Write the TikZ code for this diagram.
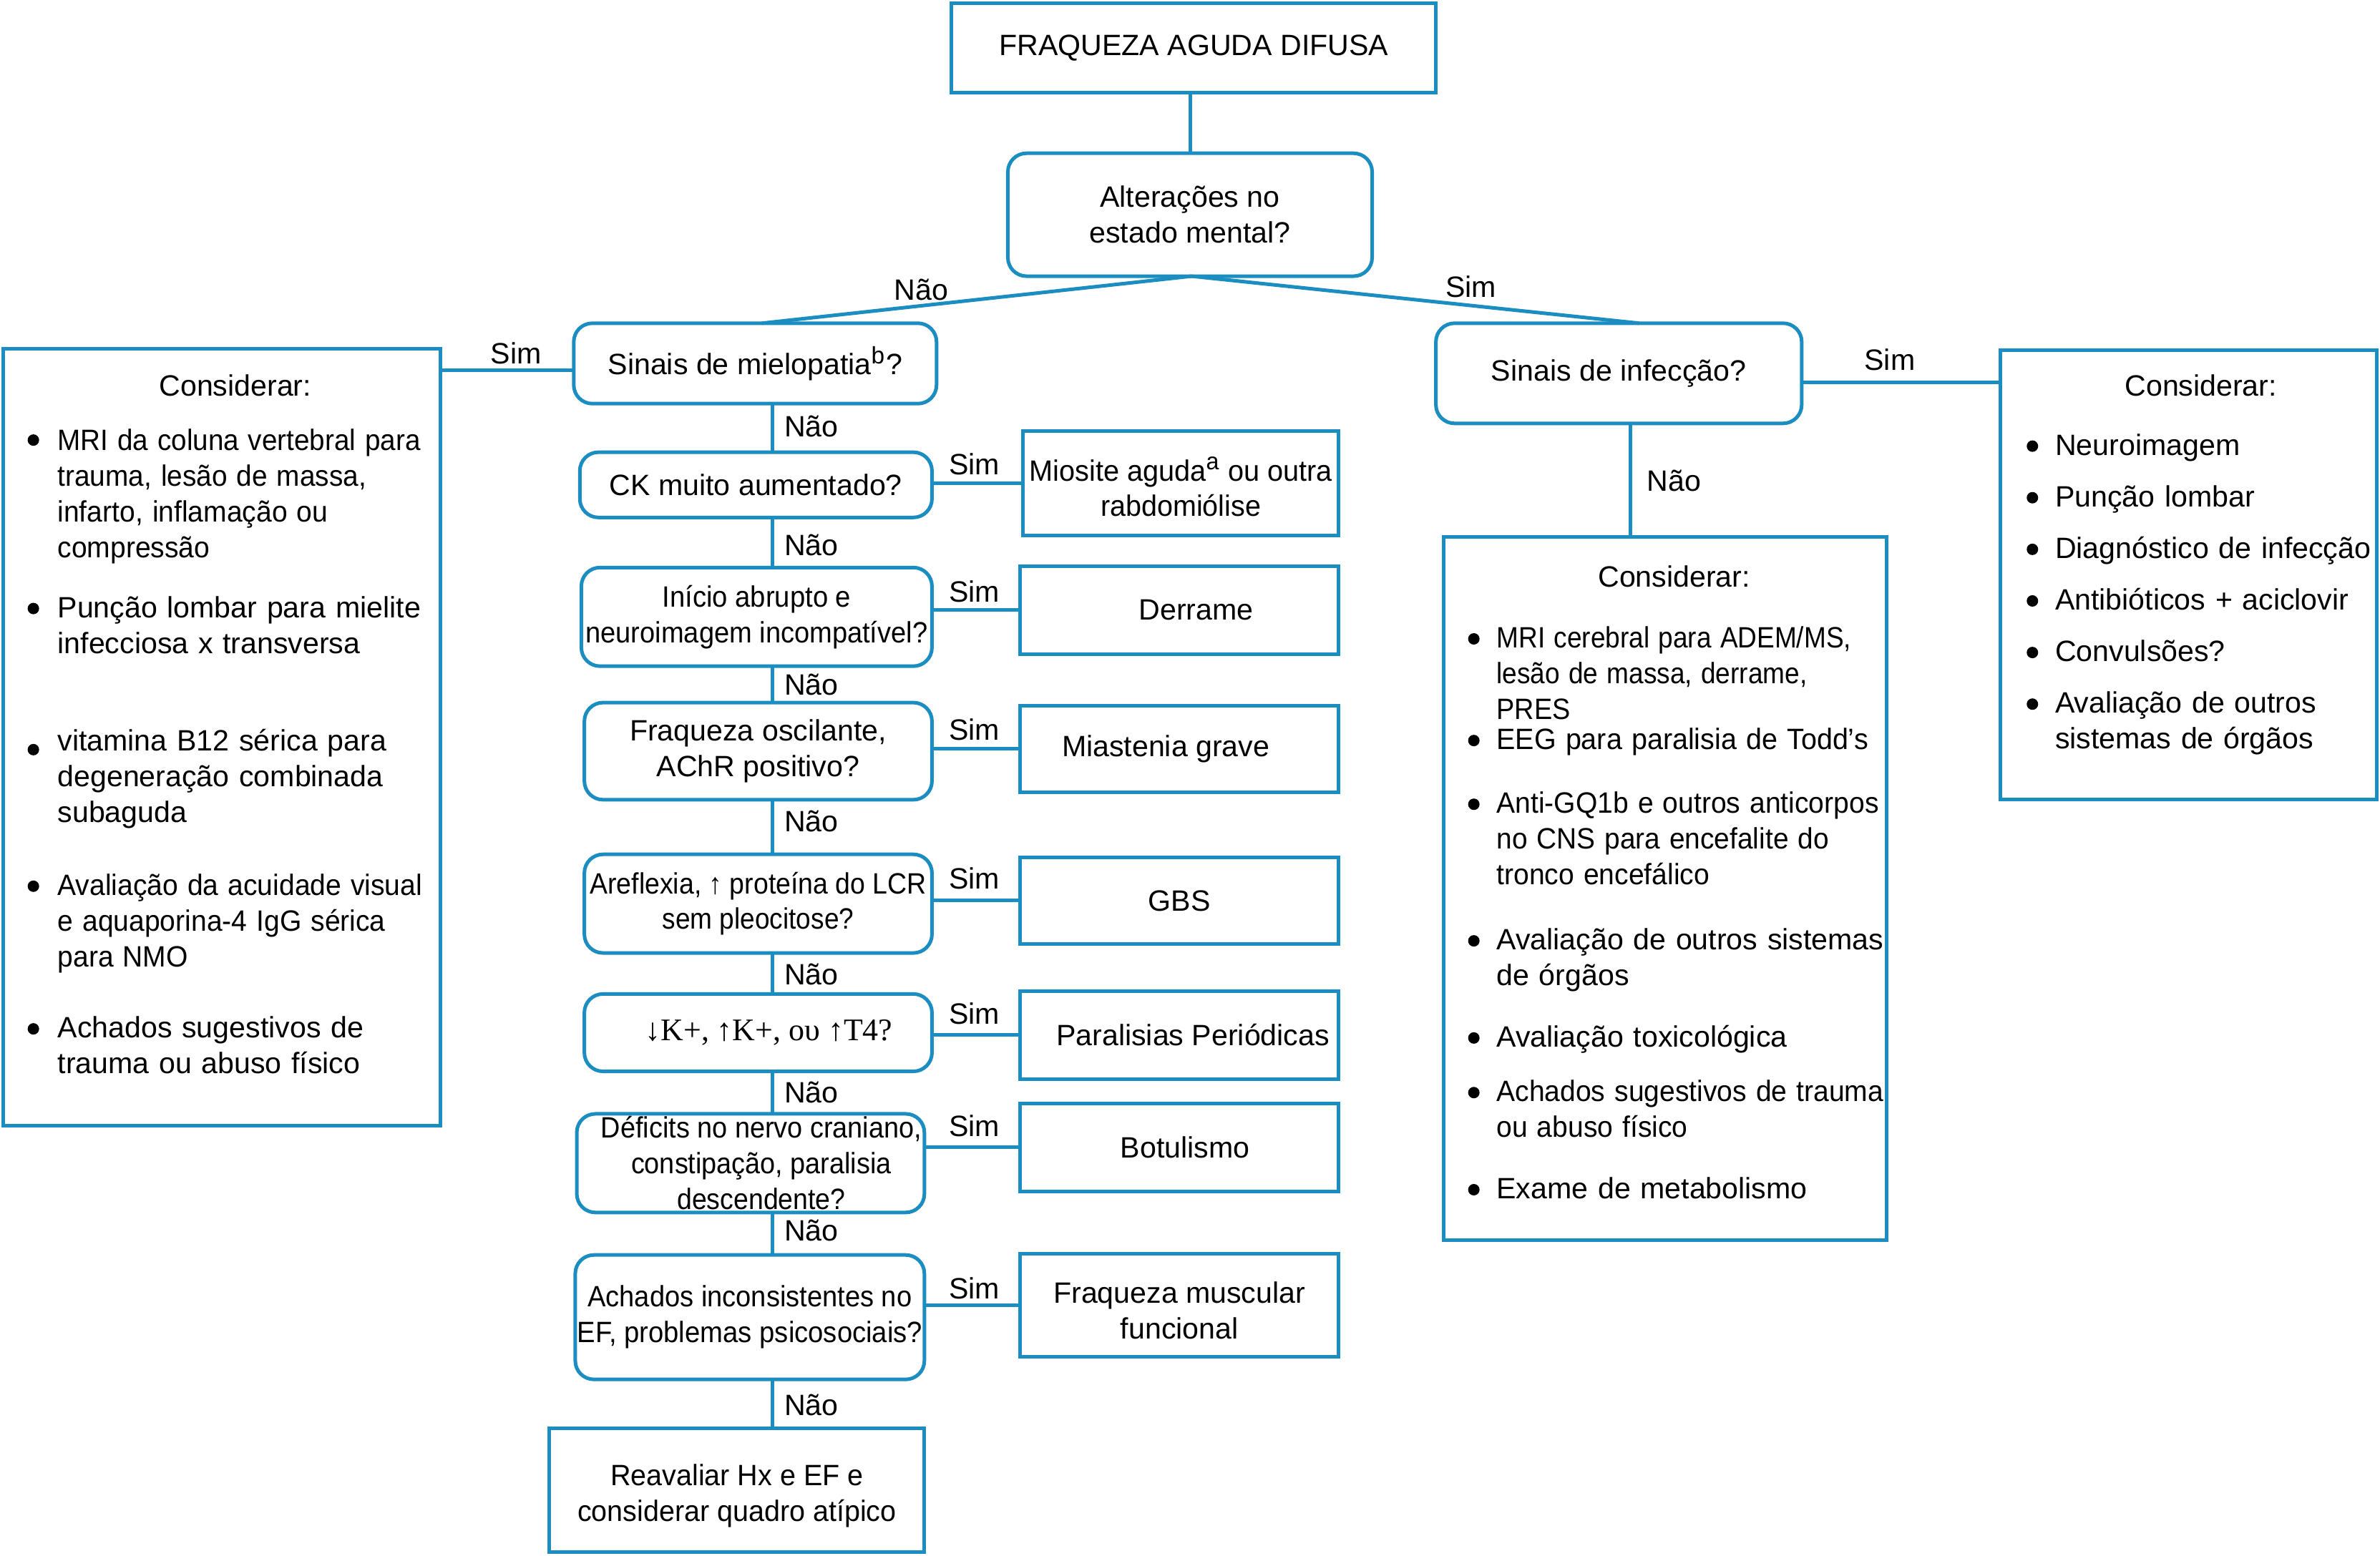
\documentclass[tikz,border=0pt]{standalone}
\usepackage{fontspec}
\usepackage{graphicx}
\setmainfont{Liberation Sans}
\newfontfamily\serifgr{Liberation Serif}
\usetikzlibrary{calc}
\definecolor{flowblue}{RGB}{28,141,192}
\newcommand{\hsc}[2]{\scalebox{#1}[1]{#2}}
\newcommand{\lowr}[2]{\raisebox{-#1}[\height][\depth]{#2}}
\begin{document}
\begin{tikzpicture}[x=0.21212mm, y=-0.21212mm,
  every node/.style={font=\fontsize{11.7}{14.2}\selectfont, inner sep=0pt, outer sep=0pt},
  wh/.style 2 args={minimum width=#1*0.21212mm, minimum height=#2*0.21212mm},
  sqbox/.style={draw=flowblue, line width=0.5mm, align=center},
  rbox/.style={sqbox, rounded corners=2.6mm},
  conn/.style={draw=flowblue, line width=0.5mm},
  bitem/.style={anchor=base west, text width=75mm, align=left},
  bdot/.style={fill=black},
]
\useasboundingbox (0,0) rectangle (1568,1025);

% ---- main column ----
\node[sqbox, wh={319}{59}] (top) at (786.5,31.5) {FRAQUEZA AGUDA DIFUSA};
\node[rbox, wh={240}{81}] (alt) at (784,141.5) {Alterações no\\estado mental?};
\node[rbox, wh={239}{53}] (q1) at (497.5,239.5) {Sinais de mielopatia\textsuperscript{\fontsize{9.5}{10}\selectfont b}?};
\node[rbox, wh={232}{43}] (q2) at (498,319.5) {CK muito aumentado?};
\node[rbox, wh={231}{65}] (q3) at (498.5,406.5) {\hsc{0.93}{Início abrupto e}\\\hsc{0.925}{neuroimagem incompatível?}};
\node[rbox, wh={229}{64}] (q4) at (499.5,495) {Fraqueza oscilante,\\AChR positivo?};
\node[rbox, wh={229}{65}] (q5) at (499.5,595.5) {\hsc{0.91}{Areflexia, ↑ proteína do LCR}\\\hsc{0.9}{sem pleocitose?}};
\node[rbox, wh={229}{51}] (q6) at (499.5,680.5) {\mbox{\hspace{3mm}\serifgr\fontsize{12.5}{14}\selectfont ↓K+, ↑K+, ου ↑T4?}};
\node[rbox, wh={229}{65}] (q7) at (494.5,766.5) {\mbox{\hspace{3mm}\hsc{0.92}{Déficits no nervo craniano,}}\\\mbox{\hspace{3mm}\hsc{0.92}{constipação, paralisia}}\\\mbox{\hspace{3mm}\hsc{0.91}{descendente?}}};
\node[rbox, wh={230}{82}] (q8) at (494,868) {\hsc{0.926}{Achados inconsistentes no}\\\hsc{0.93}{EF, problemas psicosociais?}};
\node[sqbox, wh={247}{82}] (fim) at (485.5,982) {\lowr{0.8mm}{\hsc{0.96}{Reavaliar Hx e EF e}}\\\lowr{0.8mm}{\hsc{0.96}{considerar quadro atípico}}};

% ---- results ----
\node[sqbox, wh={208}{69}] (r2) at (778,318.5) {\lowr{0.5mm}{\hsc{0.965}{Miosite aguda\textsuperscript{\fontsize{9.5}{10}\selectfont a} ou outra}}\\\lowr{0.5mm}{\hsc{0.96}{rabdomiólise}}};
\node[sqbox, wh={210}{58}] (r3) at (777,402) {\mbox{\hspace{4.7mm}Derrame}};
\node[sqbox, wh={210}{57}] (r4) at (777,493.5) {\mbox{Miastenia grave\hspace{3.8mm}}};
\node[sqbox, wh={210}{57}] (r5) at (777,593.5) {GBS};
\node[sqbox, wh={210}{58}] (r6) at (777,682) {\mbox{\hspace{3.8mm}Paralisias Periódicas}};
\node[sqbox, wh={210}{58}] (r7) at (777,756) {\mbox{\hspace{1.6mm}Botulismo}};
\node[sqbox, wh={210}{68}] (r8) at (777,860) {\lowr{0.8mm}{Fraqueza muscular}\\\lowr{0.8mm}{funcional}};

% ---- side boxes ----
\node[sqbox, wh={288}{512}] (lb) at (146,486) {};
\node[rbox, wh={241}{66}] (qi) at (1066.5,246) {Sinais de infecção?};
\node[sqbox, wh={248}{296}] (rb) at (1442,379) {};
\node[sqbox, wh={292}{463}] (mb) at (1097,585.5) {};

% ---- connectors ----
\coordinate (sx) at (509,0);
\coordinate (ix) at (1074,0);
\draw[conn] (top.south -| alt.north) -- (alt.north);
\draw[conn] ($(alt.south)+(1,0)$) -- ($(q1.north)+(4.5,0)$);
\draw[conn] ($(alt.south)+(1,0)$) -- ($(qi.north)+(13.5,0)$);
\path ($(q1.west)+(0,4.5)$) coordinate (q1w);
\draw[conn] (q1w) -- (q1w -| lb.east);
\draw[conn] (q1.south -| sx) -- (q2.north -| sx);
\draw[conn] (q2.south -| sx) -- (q3.north -| sx);
\draw[conn] (q3.south -| sx) -- (q4.north -| sx);
\draw[conn] (q4.south -| sx) -- (q5.north -| sx);
\draw[conn] (q5.south -| sx) -- (q6.north -| sx);
\draw[conn] (q6.south -| sx) -- (q7.north -| sx);
\draw[conn] (q7.south -| sx) -- (q8.north -| sx);
\draw[conn] (q8.south -| sx) -- (fim.north -| sx);
\draw[conn] (r2.west) -- (r2.west -| q2.east);
\draw[conn] (r3.west) -- (r3.west -| q3.east);
\draw[conn] (r4.west) -- (r4.west -| q4.east);
\draw[conn] (r5.west) -- (r5.west -| q5.east);
\draw[conn] (r6.west) -- (r6.west -| q6.east);
\draw[conn] (r7.west) -- (r7.west -| q7.east);
\draw[conn] (r8.west) -- (r8.west -| q8.east);
\path ($(qi.east)+(0,6)$) coordinate (qie);
\draw[conn] (qie) -- (qie -| rb.west);
\draw[conn] (qi.south -| ix) -- (mb.north -| ix);

% ---- labels ----
\node (l0) at (607,191) {Não};
\node (l1) at (969,189) {Sim};
\node (l2) at (340,233) {Sim};
\node (l3) at (1245,237) {Sim};
\node (l4) at (1103,317) {Não};
\foreach \y [count=\i] in {281,359,451,541,642,720,811,926}
  \node (n\i) at (534.5,\y) {Não};
\foreach \y [count=\i] in {306,390,481,579,668,742,849}
  \node (s\i) at (642,\y) {Sim};

% ---- left box content ----
\node (lbt) at (155,254) {Considerar:};
\node[bitem] (lb1) at (38,297) {\hsc{0.94}{MRI da coluna vertebral para}\\\hsc{0.944}{trauma, lesão de massa,}\\\hsc{0.95}{infarto, inflamação ou}\\\hsc{0.95}{compressão}};
\node[bitem] (lb2) at (38,407) {Punção lombar para mielite\\infecciosa x transversa};
\node[bitem] (lb3) at (38,495) {vitamina B12 sérica para\\degeneração combinada\\subaguda};
\node[bitem] (lb4) at (38,590) {\hsc{0.95}{Avaliação da acuidade visual}\\\hsc{0.95}{e aquaporina-4 IgG sérica}\\\hsc{0.95}{para NMO}};
\node[bitem] (lb5) at (38,684) {Achados sugestivos de\\trauma ou abuso físico};
\foreach \y in {290,401,494,584,678}
  \fill[bdot] (22,\y) circle[radius=0.8mm];

% ---- middle box content ----
\node (mbt) at (1103,380) {Considerar:};
\node[bitem] (mb1) at (986,427) {\hsc{0.9}{MRI cerebral para ADEM/MS,}\\\hsc{0.9}{lesão de massa, derrame,}\\\hsc{0.92}{PRES}};
\node[bitem] (mb2) at (986,494) {\hsc{0.96}{EEG para paralisia de Todd’s}};
\node[bitem] (mb3) at (986,536) {\hsc{0.95}{Anti-GQ1b e outros anticorpos}\\\hsc{0.945}{no CNS para encefalite do}\\\hsc{0.95}{tronco encefálico}};
\node[bitem] (mb4) at (986,626) {Avaliação de outros sistemas\\de órgãos};
\node[bitem] (mb5) at (986,690) {Avaliação toxicológica};
\node[bitem] (mb6) at (986,726) {\hsc{0.95}{Achados sugestivos de trauma}\\\hsc{0.95}{ou abuso físico}};
\node[bitem] (mb7) at (986,790) {Exame de metabolismo};
\foreach \y in {421,488,530,620,684,720,784}
  \fill[bdot] (971,\y) circle[radius=0.8mm];

% ---- right box content ----
\node (rbt) at (1450,254) {Considerar:};
\node[bitem] (rb1) at (1354,300) {Neuroimagem};
\node[bitem] (rb2) at (1354,334) {Punção lombar};
\node[bitem] (rb3) at (1354,368) {Diagnóstico de infecção};
\node[bitem] (rb4) at (1354,402) {Antibióticos + aciclovir};
\node[bitem] (rb5) at (1354,436) {Convulsões?};
\node[bitem] (rb6) at (1354,470) {Avaliação de outros\\sistemas de órgãos};
\foreach \y in {294,328,362,396,430,464}
  \fill[bdot] (1339,\y) circle[radius=0.8mm];
\end{tikzpicture}
\end{document}
